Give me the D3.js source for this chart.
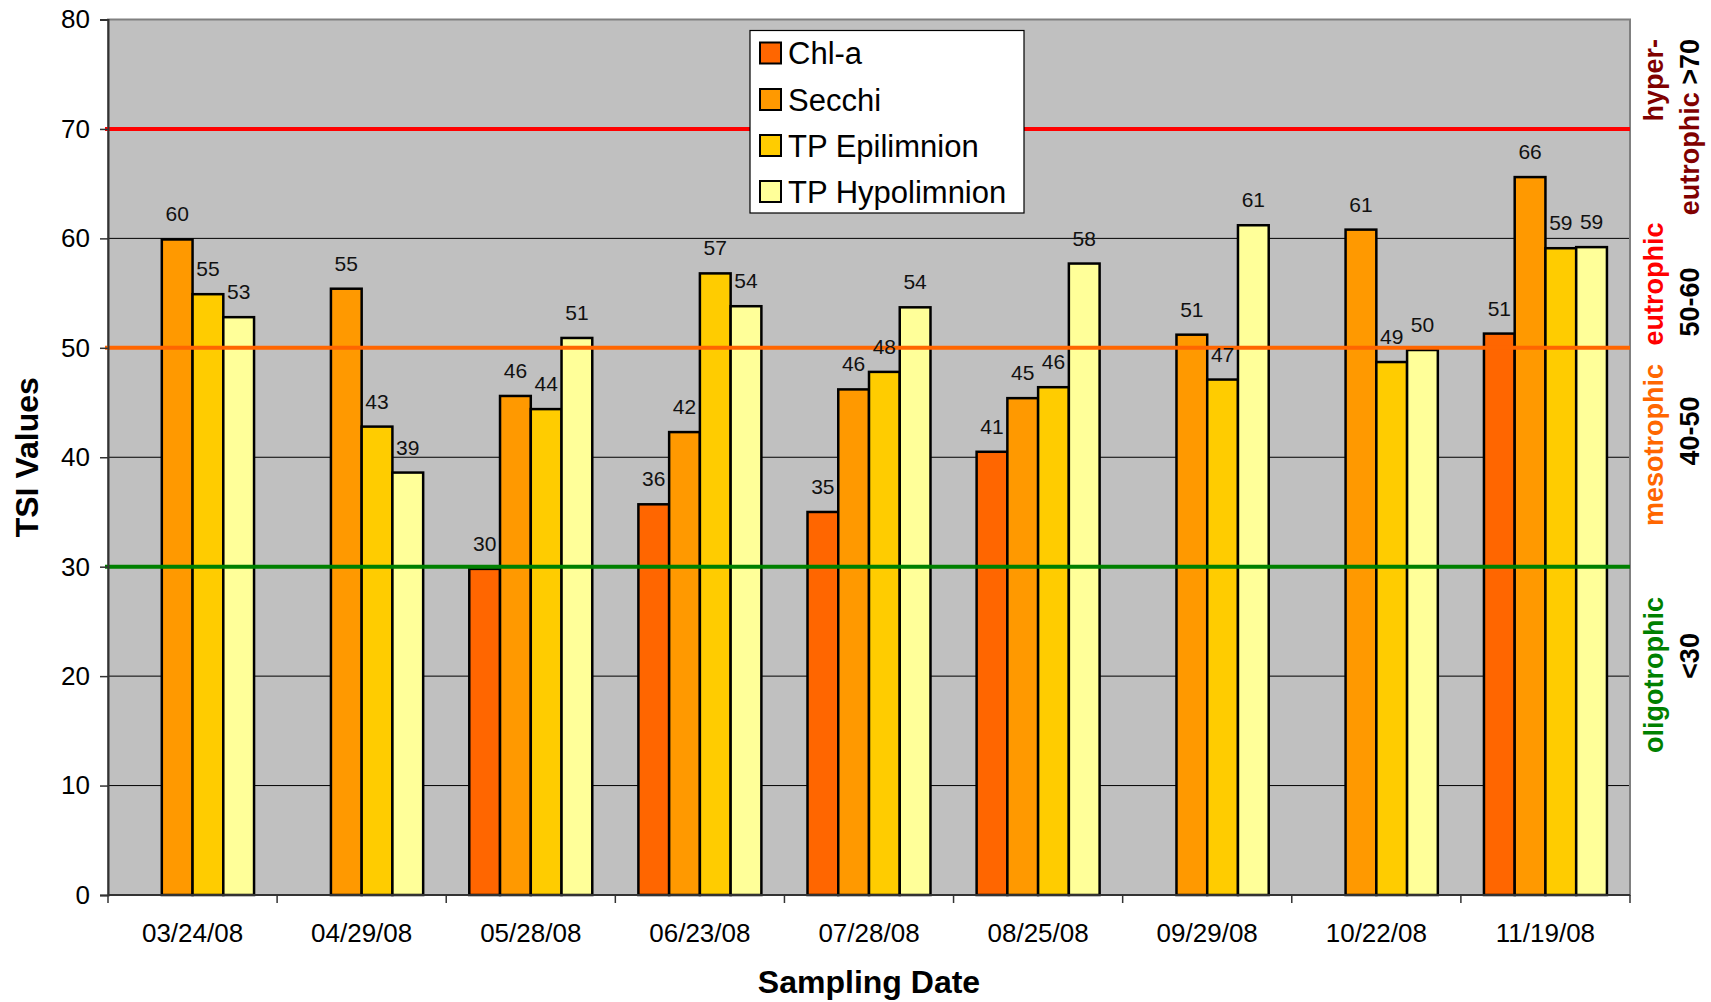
<!DOCTYPE html>
<html>
<head>
<meta charset="utf-8">
<script src="https://cdn.jsdelivr.net/npm/d3@7"></script>
<style>
  html, body { margin: 0; padding: 0; background: #fff; }
  svg { display: block; font-family: "Liberation Sans", Arial, sans-serif; }
</style>
</head>
<body>
<svg id="chart" width="1711" height="1002"></svg>
<script>
// ---- data ----
const dates = ["03/24/08", "04/29/08", "05/28/08", "06/23/08", "07/28/08", "08/25/08", "09/29/08", "10/22/08", "11/19/08"];
const seriesNames = ["Chl-a", "Secchi", "TP Epilimnion", "TP Hypolimnion"];
const chla   = [null, null, 29.8, 35.7, 35.0, 40.5, null, null, 51.3];
const secchi = [59.9, 55.4, 45.6, 42.3, 46.2, 45.4, 51.2, 60.8, 65.6];
const tpEpi  = [54.9, 42.8, 44.4, 56.8, 47.8, 46.4, 47.1, 48.7, 59.1];
const tpHypo = [52.8, 38.6, 50.9, 53.8, 53.7, 57.7, 61.2, 49.8, 59.2];
const yTicks = [0, 10, 20, 30, 40, 50, 60, 70, 80];
const thresholds = [70, 50, 30];
const seriesColors = ["#FF6600", "#FF9900", "#FFCC00", "#FFFF99"];
const thresholdColors = ["#FF0000", "#FF6600", "#008000"];

const seriesValues = [chla, secchi, tpEpi, tpHypo];

// ---- layout ----
const svg = d3.select("#chart");
const pLeft = 108, pRight = 1630, pTop = 19.5, pBottom = 895;

const x0 = d3.scaleBand().domain(dates).range([pLeft, pRight]).paddingInner(0).paddingOuter(0);
const x1 = d3.scaleBand().domain(seriesNames).range([0, x0.bandwidth()]).paddingInner(0).paddingOuter(0.75);
const y = d3.scaleLinear().domain([0, 80]).range([pBottom, pTop]);

// plot background
svg.append("rect")
  .attr("x", pLeft).attr("y", pTop)
  .attr("width", pRight - pLeft).attr("height", pBottom - pTop)
  .attr("fill", "#C0C0C0");

// gridlines
svg.append("g").selectAll("line")
  .data(yTicks.filter(t => t > 0 && t < 80))
  .join("line")
  .attr("x1", pLeft).attr("x2", pRight)
  .attr("y1", d => y(d)).attr("y2", d => y(d))
  .attr("stroke", "#000").attr("stroke-width", 1);

// plot border
svg.append("rect")
  .attr("x", pLeft).attr("y", pTop)
  .attr("width", pRight - pLeft).attr("height", pBottom - pTop)
  .attr("fill", "none").attr("stroke", "#808080").attr("stroke-width", 2);

// bars
const rows = [];
dates.forEach((d, i) => {
  seriesNames.forEach((s, j) => {
    const v = seriesValues[j][i];
    if (v !== null) rows.push({ date: d, series: s, value: v, color: seriesColors[j] });
  });
});

const barG = svg.append("g");
barG.selectAll("rect")
  .data(rows)
  .join("rect")
  .attr("x", d => x0(d.date) + x1(d.series))
  .attr("y", d => y(d.value))
  .attr("width", x1.bandwidth())
  .attr("height", d => y(0) - y(d.value))
  .attr("fill", d => d.color)
  .attr("stroke", "#000")
  .attr("stroke-width", 2.5);

// threshold lines
svg.append("g").selectAll("line")
  .data(thresholds)
  .join("line")
  .attr("x1", pLeft - 3).attr("x2", pRight)
  .attr("y1", d => y(d)).attr("y2", d => y(d))
  .attr("stroke", (d, i) => thresholdColors[i])
  .attr("stroke-width", 4);

// data labels
svg.append("g").selectAll("text")
  .data(rows)
  .join("text")
  .attr("x", d => x0(d.date) + x1(d.series) + x1.bandwidth() / 2)
  .attr("y", d => y(d.value) - 18)
  .attr("text-anchor", "middle")
  .attr("font-size", 21)
  .attr("fill", "#111")
  .text(d => Math.round(d.value));

// y axis
const yAxis = d3.axisLeft(y).tickValues(yTicks).tickSize(8).tickPadding(10).tickFormat(d3.format("d"));
const yg = svg.append("g").attr("transform", `translate(${pLeft},0)`).call(yAxis);
yg.select(".domain").attr("stroke", "#333").attr("stroke-width", 2);
yg.selectAll(".tick line").attr("stroke", "#333").attr("stroke-width", 1.5);
yg.selectAll(".tick text").attr("font-size", 26).attr("fill", "#000")
  .attr("font-family", "'Liberation Sans', Arial, sans-serif");

// x axis (ticks at category boundaries)
const xg = svg.append("g");
xg.append("line").attr("x1", pLeft).attr("x2", pRight).attr("y1", pBottom).attr("y2", pBottom)
  .attr("stroke", "#333").attr("stroke-width", 2);
const boundaries = dates.map(d => x0(d)).concat([x0(dates[dates.length - 1]) + x0.bandwidth()]);
xg.selectAll("line.tk").data(boundaries).join("line").attr("class", "tk")
  .attr("x1", d => d).attr("x2", d => d).attr("y1", pBottom).attr("y2", pBottom + 8)
  .attr("stroke", "#333").attr("stroke-width", 1.5);
xg.selectAll("text").data(dates).join("text")
  .attr("x", d => x0(d) + x0.bandwidth() / 2)
  .attr("y", 942)
  .attr("text-anchor", "middle")
  .attr("font-size", 26)
  .attr("fill", "#000")
  .text(d => d);

// axis titles
svg.append("text")
  .attr("x", (pLeft + pRight) / 2).attr("y", 993)
  .attr("text-anchor", "middle")
  .attr("font-size", 32).attr("font-weight", "bold")
  .text("Sampling Date");

svg.append("text")
  .attr("transform", `translate(38,${(pTop + pBottom) / 2}) rotate(-90)`)
  .attr("text-anchor", "middle")
  .attr("font-size", 32).attr("font-weight", "bold")
  .text("TSI Values");

// legend
const lg = svg.append("g");
lg.append("rect").attr("x", 750).attr("y", 30.5).attr("width", 274).attr("height", 182.5)
  .attr("fill", "#fff").attr("stroke", "#000").attr("stroke-width", 1.2);
const legendRows = [53, 99.5, 145.5, 191.5];
seriesNames.forEach((s, j) => {
  lg.append("rect").attr("x", 760).attr("y", legendRows[j] - 10.5).attr("width", 21).attr("height", 21)
    .attr("fill", seriesColors[j]).attr("stroke", "#000").attr("stroke-width", 2);
  lg.append("text").attr("x", 788).attr("y", legendRows[j] + 11)
    .attr("font-size", 31).attr("fill", "#000").text(s);
});

// right-side trophic labels (rotated)
const sideLabels = [
  { text: "hyper-", x: 1653, y: 39, anchor: "end", color: "#800000" },
  { parts: [["eutrophic ", "#800000"], [">70", "#000"]], x: 1689, y: 39, anchor: "end" },
  { text: "eutrophic", x: 1653, y: 284, anchor: "middle", color: "#FF0000" },
  { text: "50-60", x: 1689, y: 302, anchor: "middle", color: "#000" },
  { text: "mesotrophic", x: 1653, y: 445, anchor: "middle", color: "#FF6600" },
  { text: "40-50", x: 1689, y: 431, anchor: "middle", color: "#000" },
  { text: "oligotrophic", x: 1653, y: 675, anchor: "middle", color: "#008000" },
  { text: "<30", x: 1689, y: 656, anchor: "middle", color: "#000" }
];
const sg = svg.append("g");
sideLabels.forEach(l => {
  const t = sg.append("text")
    .attr("transform", `translate(${l.x + 9.5},${l.y}) rotate(-90)`)
    .attr("text-anchor", l.anchor)
    .attr("font-size", 27).attr("font-weight", "bold");
  if (l.parts) {
    l.parts.forEach(p => t.append("tspan").attr("fill", p[1]).text(p[0]));
  } else {
    t.attr("fill", l.color).text(l.text);
  }
});
</script>
</body>
</html>
